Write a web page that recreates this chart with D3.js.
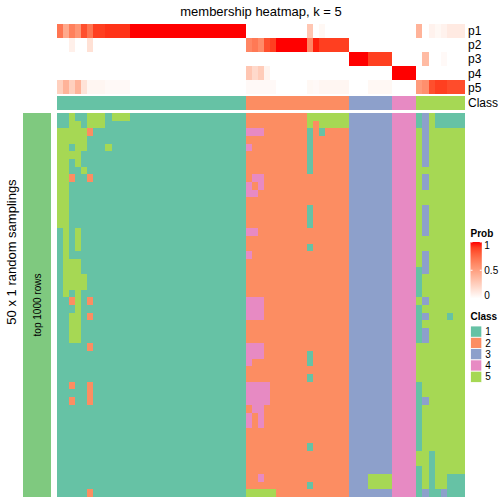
<!DOCTYPE html>
<html><head><meta charset="utf-8">
<script src="https://cdn.jsdelivr.net/npm/d3@7/dist/d3.min.js"></script>
<style>
body{margin:0;background:#fff}
svg{display:block}
text{font-family:"Liberation Sans",Arial,Helvetica,sans-serif;fill:#000}
</style></head>
<body><svg id="chart" width="504" height="504"></svg>
<script>
// ---------------- data ----------------
const title = "membership heatmap, k = 5";
const rowTitle = "50 x 1 random samplings";
const rowGroupLabel = "top 1000 rows";
const classNames = ["1","2","3","4","5"];
const classColors = ["#66C2A5","#FC8D62","#8DA0CB","#E78AC3","#A6D854"];
const probNames = ["p1","p2","p3","p4","p5"];
const probTicks = [0, 0.5, 1];

// consensus class of each column (67 columns)
const colClass = "1111111111 1111111111 1111111111 1  22222 22222 2222222  3333333  4444  55555555";

// membership probabilities per column
const p1 = [0.70,0.45,0.65,0.55,0.85,0.70,0.90,0.90,0.93,0.93,0.93,0.93,1,1,1,1,1,1,1,1,1,1,1,1,1,1,1,1,1,1,1,
            0,0,0,0,0,0,0,0,0,0,0.30,0,0.04,0,0,0,0,
            0,0,0,0,0,0,0,
            0,0,0,0,
            0.40,0,0.07,0.04,0.07,0.11,0.11,0.11];
const p2 = [0,0,0.08,0,0,0.16,0,0,0,0,0,0,0,0,0,0,0,0,0,0,0,0,0,0,0,0,0,0,0,0,0,
            0.62,0.68,0.60,0.85,0.90,1,1,1,1,1,0.62,0.97,0.90,0.90,0.90,0.90,0.90,
            0,0,0,0,0,0,0,
            0,0,0,0,
            0,0,0,0,0,0,0,0];
const p3 = [0,0,0,0,0,0,0,0,0,0,0,0,0,0,0,0,0,0,0,0,0,0,0,0,0,0,0,0,0,0,0,
            0,0,0,0,0,0,0,0,0,0,0,0,0,0,0,0,0,
            1,1,1,0.90,0.90,0.90,0.90,
            0,0,0,0,
            0,0.36,0,0,0.03,0,0,0];
const p4 = [0,0,0,0,0,0,0,0,0,0,0,0,0,0,0,0,0,0,0,0,0,0,0,0,0,0,0,0,0,0,0,
            0.30,0.20,0.27,0.06,0,0,0,0,0,0,0,0,0,0,0,0,0,
            0,0,0,0,0,0,0,
            1,1,1,1,
            0,0,0,0,0,0,0,0];
const p5 = [0.25,0.40,0.25,0.40,0.15,0.05,0.05,0.05,0.03,0.03,0.03,0.03,0,0,0,0,0,0,0,0,0,0,0,0,0,0,0,0,0,0,0,
            0.03,0.03,0.03,0.03,0.03,0,0,0,0,0,0.04,0.03,0.05,0.05,0.05,0.05,0.05,
            0,0,0,0.04,0.04,0.04,0.04,
            0,0,0,0,
            0.52,0.58,0.85,0.90,0.90,0.86,0.86,0.86];

// class assigned in each of the 50 random samplings (rows) for each column
const samplings = [
 "1151155515 5511111111 1111111111 1  22222 22222 5555555  3333333  4444  13511111",
 "1155155511 1111111111 1111111111 1  22222 22222 5255555  3333333  4444  13511111",
 "5555521111 1111111111 1111111111 1  44422 22222 1212222  3333333  4444  53555555",
 "5555511111 1111111111 1111111111 1  22222 22222 1222222  3333333  4444  53555555",
 "5515511151 1111111111 1111111111 1  42222 22222 1222222  3333333  4444  53555555",
 "5555111111 1111111111 1111111111 1  22222 22222 1222222  3333333  4444  53555555",
 "5515111111 1111111111 1111111111 1  22222 22222 1222222  3333333  4444  53555555",
 "5511511111 1111111111 1111111111 1  22222 22222 1222222  3333333  4444  55555555",
 "5521121111 1111111111 1111111111 1  24422 22222 2222222  3333333  4444  53555555",
 "5511111111 1111111111 1111111111 1  42422 22222 2222222  3333333  4444  53555555",
 "5511111111 1111111111 1111111111 1  44222 22222 2222222  3333333  4444  55555555",
 "5511111111 1111111111 1111111111 1  22222 22222 2222222  3333333  4444  55555555",
 "5511111111 1111111111 1111111111 1  22222 22222 1222222  3333333  4444  53555555",
 "5511111111 1111111111 1111111111 1  22222 22222 1222222  3333333  4444  53555555",
 "5511111111 1111111111 1111111111 1  22222 22222 1222222  3333333  4444  53555555",
 "1515111111 1111111111 1111111111 1  44222 22222 2222222  3333333  4444  53555555",
 "1515111111 1111111111 1111111111 1  22222 22222 2222222  3333333  4444  55555555",
 "1515111111 1111111111 1111111111 1  22222 22222 1222222  3333333  4444  55555555",
 "1511111111 1111111111 1111111111 1  42222 22222 2222222  3333333  4444  53555555",
 "1555111111 1111111111 1111111111 1  22222 22222 2222222  3333333  4444  53555555",
 "1555111111 1111111111 1111111111 1  22222 22222 2222222  3333333  4444  13555555",
 "1555511111 1111111111 1111111111 1  22222 22222 2222222  3333333  4444  15555555",
 "1555511111 1111111111 1111111111 1  22222 22222 2222222  3333333  4444  15555555",
 "1515111111 1111111111 1111111111 1  22222 22222 2222222  3333333  4444  15555555",
 "1125121111 1111111111 1111111111 1  44422 22222 2222222  3333333  4444  53555555",
 "1115111111 1111111111 1111111111 1  44422 22222 2222222  3333333  4444  15555555",
 "1155121111 1111111111 1111111111 1  44422 22222 2222222  3333333  4444  13555155",
 "1155111111 1111111111 1111111111 1  22222 22222 2222222  3333333  4444  15555555",
 "1155111111 1111111111 1111111111 1  22222 22222 2222222  3333333  4444  13555555",
 "1155111111 1111111111 1111111111 1  22222 22222 2222222  3333333  4444  13555555",
 "1111121111 1111111111 1111111111 1  44422 22222 2222222  3333333  4444  55555555",
 "1111111111 1111111111 1111111111 1  44422 22222 1222222  3333333  4444  55555555",
 "1111111111 1111111111 1111111111 1  42222 22222 1222222  3333333  4444  55555555",
 "1111111111 1111111111 1111111111 1  22222 22222 2222222  3333333  4444  55555555",
 "1111111111 1111111111 1111111111 1  22222 22222 1222222  3333333  4444  55555555",
 "1121121111 1111111111 1111111111 1  44442 22222 2222222  3333333  4444  15555555",
 "1111121111 1111111111 1111111111 1  44442 22222 2222222  3333333  4444  15555555",
 "1121121111 1111111111 1111111111 1  44442 22222 2222222  3333333  4444  13555555",
 "1111111111 1111111111 1111111111 1  24422 22222 2222222  3333333  4444  15555555",
 "1111111111 1111111111 1111111111 1  42422 22222 2222222  3333333  4444  15555555",
 "1111111111 1111111111 1111111111 1  42422 22222 2222222  3333333  4444  15555555",
 "1111111111 1111111111 1111111111 1  22222 22222 2222222  3333333  4444  15555555",
 "1111111111 1111111111 1111111111 1  22222 22222 2222222  3333333  4444  15555555",
 "1111111111 1111111111 1111111111 1  22222 22222 1222222  3333333  4444  15555555",
 "1111111111 1111111111 1111111111 1  22222 22222 2222222  3333333  4444  55155555",
 "1111111111 1111111111 1111111111 1  22222 22222 2222222  3333333  4444  55155555",
 "1111111111 1111111111 1111111111 1  22222 22222 2222222  3333333  4444  15155555",
 "1111111111 1111111111 1111111111 1  22422 22222 2222222  3335555  4444  15155111",
 "1111111111 1111111111 1111111111 1  22222 22222 1222222  3335555  4444  15155111",
 "1111121111 1111111111 1111111111 1  55555 22222 2222222  3333333  4444  13113111"
];

// ---------------- drawing ----------------
const clean = s => s.replace(/\s+/g, "");
const colCls = clean(colClass).split("");
const matrix = samplings.map(r => clean(r).split(""));
const nCol = colCls.length, nRow = matrix.length;
const probs = [p1, p2, p3, p4, p5];

const svg = d3.select("#chart");
const x = d3.scaleBand().domain(d3.range(nCol)).range([56.7, 465.1]);
const y = d3.scaleBand().domain(d3.range(nRow)).range([113, 497]);
const yAnno = d3.scaleBand().domain(probNames).range([24, 94.3]);
const classColor = d3.scaleOrdinal().domain(classNames).range(classColors);
const probColor = d3.scaleLinear().domain([0, 1]).range(["#ffffff", "#ff0000"]).interpolate(d3.interpolateLab);

// title
svg.append("text").attr("x", 261).attr("y", 15.5).attr("text-anchor", "middle")
  .style("font-size", "13px").text(title);

// probability annotation rows
const annoG = svg.append("g").attr("shape-rendering", "crispEdges");
probs.forEach((arr, i) => {
  annoG.selectAll(null).data(arr).enter().append("rect")
    .attr("x", (d, j) => x(j)).attr("width", x.bandwidth() + 0.02)
    .attr("y", yAnno(probNames[i])).attr("height", yAnno.bandwidth())
    .attr("fill", d => probColor(d));
});
// class annotation row
annoG.selectAll(null).data(colCls).enter().append("rect")
  .attr("x", (d, j) => x(j)).attr("width", x.bandwidth() + 0.02)
  .attr("y", 95.7).attr("height", 14)
  .attr("fill", d => classColor(d));

// annotation names
const annoNames = probNames.map(n => ({n, y: yAnno(n) + yAnno.bandwidth() / 2}))
  .concat([{n: "Class", y: 95.7 + 7}]);
svg.selectAll(null).data(annoNames).enter().append("text")
  .attr("x", 468).attr("y", d => d.y).attr("dy", "0.36em")
  .style("font-size", "12px").text(d => d.n);

// main body
const bodyG = svg.append("g").attr("shape-rendering", "crispEdges");
matrix.forEach((row, r) => {
  bodyG.selectAll(null).data(row).enter().append("rect")
    .attr("x", (d, j) => x(j)).attr("width", x.bandwidth() + 0.02)
    .attr("y", y(r)).attr("height", y.bandwidth() + 0.02)
    .attr("fill", d => classColor(d));
});

// left row-group bar
svg.append("rect").attr("x", 23).attr("y", 113).attr("width", 28).attr("height", 384)
  .attr("fill", "#7FC97F");
svg.append("text").attr("transform", "translate(41,305) rotate(-90)")
  .attr("text-anchor", "middle").style("font-size", "10px").text(rowGroupLabel);
svg.append("text").attr("transform", "translate(15.5,252) rotate(-90)")
  .attr("text-anchor", "middle").style("font-size", "13px").text(rowTitle);

// Prob legend
const lgX = 470.5;
svg.append("text").attr("x", lgX).attr("y", 237).style("font-size", "10px")
  .style("font-weight", "bold").text("Prob");
const barTop = 242, barH = 56.5, barW = 11.3;
const grad = svg.append("defs").append("linearGradient").attr("id", "pg")
  .attr("x1", 0).attr("y1", 1).attr("x2", 0).attr("y2", 0);
d3.range(0, 1.0001, 0.1).forEach(t => grad.append("stop")
  .attr("offset", t).attr("stop-color", probColor(t)));
svg.append("rect").attr("x", lgX).attr("y", barTop).attr("width", barW).attr("height", barH)
  .attr("fill", "url(#pg)");
const ly = d3.scaleLinear().domain([0, 1]).range([barTop + barH, barTop]);
probTicks.forEach(t => {
  const yy = ly(t);
  svg.append("line").attr("x1", lgX).attr("x2", lgX + 2).attr("y1", yy).attr("y2", yy)
    .attr("stroke", "#fff").attr("stroke-width", 1);
  svg.append("line").attr("x1", lgX + barW - 2).attr("x2", lgX + barW).attr("y1", yy).attr("y2", yy)
    .attr("stroke", "#fff").attr("stroke-width", 1);
});
svg.selectAll(null).data(probTicks).enter().append("text")
  .attr("x", lgX + barW + 2.5)
  .attr("y", d => Math.min(Math.max(ly(d), barTop + 3.5), barTop + barH - 3.5))
  .attr("dy", "0.36em").style("font-size", "10px").text(d => d3.format("~g")(d));

// Class legend
svg.append("text").attr("x", lgX).attr("y", 320).style("font-size", "10px")
  .style("font-weight", "bold").text("Class");
const boxH = 11.3, boxTop = 326;
svg.selectAll(null).data(classNames).enter().append("rect")
  .attr("x", lgX).attr("y", (d, i) => boxTop + i * boxH).attr("width", barW).attr("height", boxH)
  .attr("fill", d => classColor(d)).attr("stroke", "#fff").attr("stroke-width", 0.8);
svg.selectAll(null).data(classNames).enter().append("text")
  .attr("x", lgX + barW + 3.5).attr("y", (d, i) => boxTop + i * boxH + boxH / 2)
  .attr("dy", "0.36em").style("font-size", "10px").text(d => d);
</script></body></html>
